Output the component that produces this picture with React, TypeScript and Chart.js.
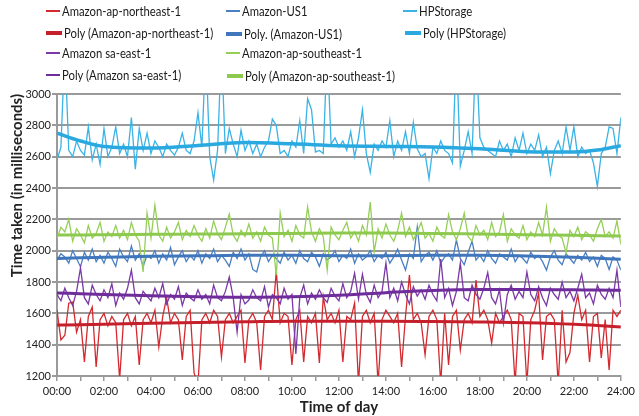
import React, { useEffect, useRef } from 'react';
import { Chart, registerables } from 'chart.js';

Chart.register(...registerables);

// x positions: one sample every 10 minutes, expressed in hours
const timeHours: number[] = Array.from({ length: 145 }, (_, i) => i / 6);
const xTickLabels = ['00:00', '02:00', '04:00', '06:00', '08:00', '10:00', '12:00', '14:00', '16:00', '18:00', '20:00', '22:00', '24:00'];
const yTickValues = [1200, 1400, 1600, 1800, 2000, 2200, 2400, 2600, 2800, 3000];

const apNortheast = [
  1620, 1430, 1460, 1665, 1672, 1480, 1560, 1290, 1580, 1640, 1257, 1560,
  1600, 1520, 1580, 1540, 1180, 1560, 1600, 1520, 1580, 1270, 1560, 1600,
  1540, 1620, 1385, 1580, 1700, 1540, 1600, 1560, 1302, 1580, 1620, 1220,
  1150, 1560, 1600, 1540, 1620, 1580, 1321, 1560, 1600, 1540, 1580, 1620,
  1283, 1560, 1600, 1540, 1238, 1580, 1620, 1560, 1870, 1540, 1600, 1580,
  1270, 1560, 1620, 1290, 1580, 1540, 1600, 1283, 1706, 1560, 1600, 1540,
  1620, 1290, 1580, 1560, 1665, 1150, 1580, 1620, 1540, 1600, 1150, 1560,
  1620, 1580, 1540, 1600, 1257, 1580, 1845, 1560, 1600, 1540, 1334, 1580,
  1620, 1560, 1150, 1600, 1270, 1580, 1620, 1366, 1560, 1600, 1540, 1813,
  1580, 1620, 1560, 1410, 1600, 1540, 1580, 1620, 1560, 1150, 1600, 1580,
  1150, 1560, 1620, 1730, 1302, 1580, 1600, 1560, 1150, 1620, 1290, 1350,
  1600, 1717, 1560, 1620, 1290, 1580, 1600, 1315, 1560, 1238, 1620, 1580,
  1620,
];

const amazonUS1 = [
  1940, 1980, 1960, 1920, 2000, 1950, 1896, 1990, 1940, 2010, 1930, 1970,
  1920, 1990, 1950, 1900, 2010, 1960, 1930, 2030, 1940, 1980, 1900, 1970,
  1950, 2000, 1920, 1980, 1940, 2020, 1910, 1960, 2000, 1930, 1970, 1940,
  2000, 1920, 1980, 1950, 2010, 1930, 1970, 1940, 1900, 1990, 1950, 2010,
  1940, 1980, 1880, 1864, 1960, 2000, 1930, 1970, 1950, 1920, 1990, 1940,
  1970, 1920, 2000, 1950, 1930, 1990, 1960, 1900, 1980, 1940, 1960, 2000,
  1930, 1970, 1950, 2010, 1920, 1980, 1940, 1960, 2000, 1930, 1970, 1950,
  1990, 1920, 1960, 2010, 1940, 1876, 1980, 1950, 2150, 1930, 1970, 1990,
  1940, 2000, 1920, 1960, 1980, 1940, 2068, 1950, 1910, 1990, 2060, 1940,
  1970, 1930, 2000, 1950, 1920, 1980, 1960, 1940, 2010, 1930, 1970, 1950,
  1920, 1990, 1950, 1970, 1930, 1876, 1960, 2000, 1940, 1910, 1980, 1950,
  1920, 1970, 1940, 1990, 1930, 1960, 1900, 1970, 1950, 1880, 1960, 1940,
  1876,
];

const hpStorage = [
  2580, 2660, 3300, 2640, 2600, 2700, 2640, 2610, 2790, 2580, 2680, 2550,
  2780, 2600, 2660, 2790, 2620, 2680, 2600, 2850, 2520, 2780, 2640, 2750,
  2620, 2700, 2660, 2600, 2680, 2640, 2610, 2660, 2750, 2640, 2620, 2700,
  2880, 2660, 3300, 2600, 2450, 2640, 3300, 2620, 2780, 2680, 2600, 2770,
  2640, 2700, 2620, 2680, 2600, 2660, 2700, 2840, 2800, 2620, 2640, 2600,
  2700, 2660, 2830, 2620, 2970, 2900, 2630, 2640, 2620, 3300, 2680, 2720,
  2660, 2700, 2640, 2760, 2600, 2720, 2900, 2620, 2500, 2680, 2640, 2700,
  2660, 2830, 2600, 2700, 2640, 2760, 2620, 2820, 2650, 2600, 2620, 2460,
  2660, 2620, 2700, 2640, 2620, 2560, 3300, 2540, 2640, 2760, 2620, 3300,
  2720, 2660, 2640, 2620, 2600, 2700, 2640, 2680, 2600, 2720, 2640, 2750,
  2620, 2680, 2640, 2740, 2600, 2660, 2490, 2640, 2700, 2620, 2790, 2640,
  2790, 2600, 2660, 2620, 2640, 2560, 2410, 2620, 2660, 2790, 2780, 2620,
  2850,
];

const saEast = [
  1720, 1680, 1760, 1700, 1650, 1740, 1890, 1700, 1660, 1780, 1720, 1680,
  1750, 1700, 1790, 1650, 1730, 1690, 1760, 1876, 1700, 1660, 1740, 1710,
  1680, 1760, 1700, 1790, 1660, 1720, 1690, 1770, 1650, 1730, 1700, 1680,
  1750, 1690, 1720, 1660, 1780, 1700, 1680, 1740, 1832, 1700, 1480, 1720,
  1660, 1685, 1750, 1700, 1680, 1770, 1640, 1720, 1700, 1660, 1760, 1690,
  1720, 1340, 1700, 1780, 1660, 1730, 1690, 1750, 1700, 1670, 1760, 1710,
  1680, 1790, 1700, 1740, 1857, 1690, 1850, 1720, 1670, 1780, 1700, 1740,
  1921, 1700, 1760, 1680, 1800, 1720, 1660, 1770, 1710, 1750, 1690, 1780,
  1720, 1680, 1947, 1700, 1760, 1650, 1740, 1921, 1700, 1680, 1780, 1720,
  1690, 1760, 1860, 1700, 1660, 1750, 1537, 1720, 1780, 1690, 1740, 1700,
  1864, 1720, 1680, 1770, 1700, 1650, 1760, 1720, 1690, 1800, 1700, 1740,
  1680, 1760, 1850, 1700, 1730, 1660, 1780, 1720, 1690, 1760, 1700, 1876,
  1640,
];

const apSoutheast = [
  2080, 2150, 2120, 2200, 2060, 2140, 2100, 2050, 2160, 2080, 2110, 2180,
  2060, 2120, 2090, 2160, 2080, 2130, 2070, 2180, 2100, 2060, 1864, 2240,
  2080, 2290, 2100, 2060, 2150, 2080, 2120, 2180, 2070, 2130, 2090, 2160,
  2100, 2060, 2140, 2080, 2190, 2110, 2070, 2150, 2234, 2100, 2060, 2130,
  2090, 2170, 2080, 2120, 2060, 2150, 2100, 2080, 1845, 2240, 2090, 2130,
  2060, 2160, 2100, 2080, 2280, 2120, 2060, 2140, 2090, 1876, 2150, 2100,
  2070, 2130, 2180, 2080, 2120, 2060, 2160, 2100, 2310, 1991, 2140, 2080,
  2170, 2100, 2060, 2130, 2240, 2090, 2150, 2070, 2120, 2180, 2080, 2110,
  2060, 2150, 2100, 2080, 2230, 2120, 2070, 2140, 2240, 2090, 2060, 2160,
  2100, 2130, 2070, 2180, 2090, 2120, 2230, 2060, 2140, 2100, 2080, 2160,
  2070, 2120, 2090, 2180, 2100, 2278, 2060, 2140, 2100, 2080, 1985, 2130,
  2090, 2150, 2070, 2120, 2100, 2060, 2140, 2200, 2090, 2120, 2080, 2190,
  2040,
];

// Polynomial trendlines, read at these hours
const polyHours = [0, 1, 2, 4, 6, 8, 10, 12, 14, 16, 18, 20, 22, 23, 24];
const polyApNortheast = [1525, 1527, 1530, 1537, 1542, 1546, 1550, 1550, 1550, 1548, 1545, 1540, 1530, 1522, 1512];
const polyUS1 = [1950, 1955, 1958, 1964, 1967, 1970, 1970, 1968, 1968, 1970, 1970, 1966, 1958, 1952, 1945];
const polyHP = [2750, 2700, 2665, 2655, 2672, 2690, 2682, 2670, 2665, 2662, 2650, 2632, 2630, 2642, 2670];
const polySaEast = [1730, 1725, 1720, 1712, 1706, 1703, 1706, 1716, 1732, 1746, 1752, 1752, 1750, 1749, 1747];
const polyApSoutheast = [2100, 2100, 2102, 2104, 2106, 2108, 2110, 2112, 2112, 2110, 2106, 2102, 2098, 2096, 2094];

const C = {
  red: '#d42a2f',
  redPoly: '#c51f2c',
  blue: '#4a7fc2',
  bluePoly: '#4076bc',
  hp: '#3ab3e6',
  hpPoly: '#2aa9e0',
  purple: '#7b39a6',
  purplePoly: '#6f2c9b',
  green: '#95cf57',
  greenPoly: '#8dc94e',
};

const FONT = 'Lato, "Open Sans", sans-serif';

type LegendItem = { label: string; color: string; thick: boolean; left: number; top: number };
const legendItems: LegendItem[] = [
  { label: 'Amazon-ap-northeast-1', color: C.red, thick: false, left: 46, top: 11 },
  { label: 'Amazon-US1', color: C.blue, thick: false, left: 226, top: 11 },
  { label: 'HPStorage', color: C.hp, thick: false, left: 403, top: 11 },
  { label: 'Poly (Amazon-ap-northeast-1)', color: C.redPoly, thick: true, left: 46, top: 33 },
  { label: 'Poly. (Amazon-US1)', color: C.bluePoly, thick: true, left: 226, top: 34 },
  { label: 'Poly (HPStorage)', color: C.hpPoly, thick: true, left: 405, top: 33 },
  { label: 'Amazon sa-east-1', color: C.purple, thick: false, left: 46, top: 53 },
  { label: 'Amazon-ap-southeast-1', color: C.green, thick: false, left: 226, top: 53 },
  { label: 'Poly (Amazon sa-east-1)', color: C.purplePoly, thick: false, left: 46, top: 75 },
  { label: 'Poly (Amazon-ap-southeast-1)', color: C.greenPoly, thick: true, left: 227, top: 76 },
];

function series(values: number[], label: string, color: string, order: number) {
  return {
    label,
    data: values.map((y, i) => ({ x: timeHours[i], y })),
    borderColor: color,
    backgroundColor: color,
    borderWidth: 1.3,
    pointRadius: 0,
    tension: 0,
    order,
  };
}

function poly(values: number[], label: string, color: string, width: number) {
  return {
    label,
    data: values.map((y, i) => ({ x: polyHours[i], y })),
    borderColor: color,
    backgroundColor: color,
    borderWidth: width,
    pointRadius: 0,
    cubicInterpolationMode: 'monotone' as const,
    order: 0,
  };
}

export default function App() {
  const canvasRef = useRef<HTMLCanvasElement | null>(null);

  useEffect(() => {
    document.body.style.margin = '0';
    const ctx = canvasRef.current;
    if (!ctx) return;
    const chart = new Chart(ctx, {
      type: 'line',
      data: {
        datasets: [
          series(apNortheast, 'Amazon-ap-northeast-1', C.red, 5),
          series(amazonUS1, 'Amazon-US1', C.blue, 4),
          series(hpStorage, 'HPStorage', C.hp, 3),
          series(saEast, 'Amazon sa-east-1', C.purple, 2),
          series(apSoutheast, 'Amazon-ap-southeast-1', C.green, 1),
          poly(polyApNortheast, 'Poly (Amazon-ap-northeast-1)', C.redPoly, 3),
          poly(polyUS1, 'Poly. (Amazon-US1)', C.bluePoly, 3),
          poly(polyHP, 'Poly (HPStorage)', C.hpPoly, 3.5),
          poly(polySaEast, 'Poly (Amazon sa-east-1)', C.purplePoly, 3),
          poly(polyApSoutheast, 'Poly (Amazon-ap-southeast-1)', C.greenPoly, 3),
        ] as any,
      },
      options: {
        animation: false,
        responsive: false,
        maintainAspectRatio: false,
        parsing: false as any,
        normalized: true,
        layout: { padding: { top: 94, right: 14, bottom: 0, left: 0 } },
        plugins: {
          legend: { display: false },
          tooltip: { enabled: false },
        },
        scales: {
          x: {
            type: 'linear',
            min: 0,
            max: 24,
            afterFit: (s: any) => { s.height = 40; },
            ticks: {
              stepSize: 1,
              autoSkip: false,
              maxRotation: 0,
              padding: 4,
              color: '#222',
              font: { family: FONT, size: 11 },
              callback: (v: any) => (Number(v) % 2 === 0 ? xTickLabels[Number(v) / 2] : ''),
            },
            grid: {
              drawOnChartArea: false,
              drawTicks: true,
              tickLength: 5,
              color: '#9a9a9a',
              lineWidth: 1.5,
            },
            border: { display: true, color: '#9a9a9a', width: 2 },
            title: {
              display: true,
              text: 'Time of day',
              color: '#222',
              font: { family: FONT, size: 15, weight: 'bold' },
              padding: { top: 0, bottom: 0 },
            },
          },
          y: {
            type: 'linear',
            min: yTickValues[0],
            max: yTickValues[yTickValues.length - 1],
            afterFit: (s: any) => { s.width = 57; },
            afterBuildTicks: (s: any) => { s.ticks = yTickValues.map((v) => ({ value: v })); },
            ticks: {
              padding: 1,
              color: '#222',
              font: { family: FONT, size: 11 },
              callback: (v: any) => String(v),
            },
            grid: {
              color: '#9a9a9a',
              lineWidth: 2,
              drawTicks: true,
              tickLength: 5,
            },
            border: { display: true, color: '#9a9a9a', width: 2 },
            title: {
              display: true,
              text: 'Time taken (in milliseconds)',
              align: 'end',
              color: '#222',
              font: { family: FONT, size: 15, weight: 'bold' },
              padding: { top: 8, bottom: 0 },
            },
          },
        },
      },
    });
    return () => chart.destroy();
  }, []);

  return (
    <div style={{ position: 'fixed', left: 0, top: 0, width: 639, height: 416, background: '#fff', overflow: 'hidden' }}>
      <canvas ref={canvasRef} width={639} height={416} style={{ position: 'absolute', left: 0, top: 0, width: 639, height: 416 }} />
      {legendItems.map((it) => (
        <div
          key={it.label}
          style={{
            position: 'absolute',
            left: it.left,
            top: it.top - 9,
            height: 18,
            display: 'flex',
            alignItems: 'center',
            fontFamily: FONT,
            fontSize: 13,
            color: '#1a1a1a',
            whiteSpace: 'nowrap',
          }}
        >
          <span style={{ display: 'inline-block', width: it.thick ? 16 : 14, height: it.thick ? 4 : 2, background: it.color, marginRight: 2, flex: 'none' }} />
          <span style={{ display: 'inline-block', transform: 'scaleX(0.87)', transformOrigin: 'left center' }}>{it.label}</span>
        </div>
      ))}
    </div>
  );
}
